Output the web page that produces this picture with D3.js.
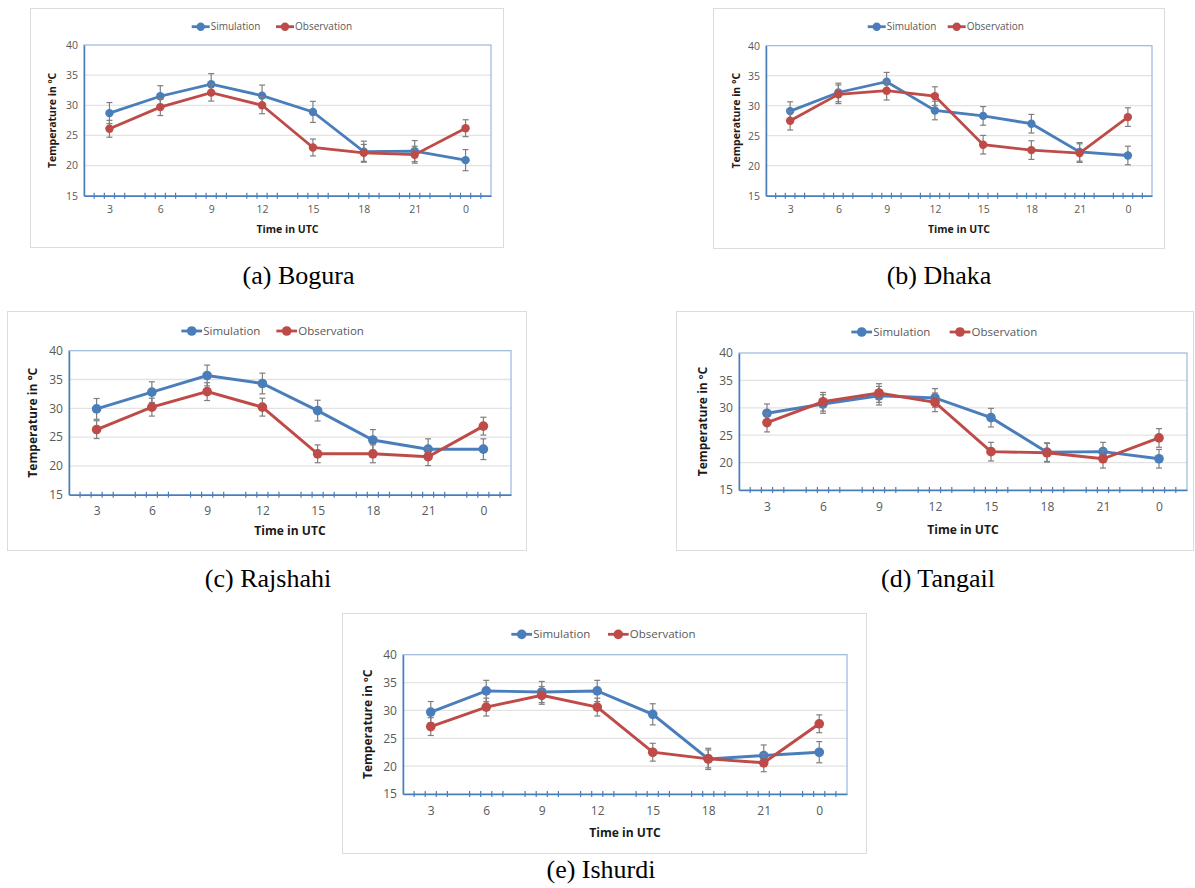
<!DOCTYPE html>
<html>
<head>
<meta charset="utf-8">
<script src="https://cdn.jsdelivr.net/npm/d3@7"></script>
<style>
  body { margin: 0; background: #fff; }
  svg text { font-family: "Open Sans", "DejaVu Sans", sans-serif; }
</style>
</head>
<body>
<div id="my_dataviz"></div>
<script>
// categories and y ticks shared by all panels
var hours = ["3", "6", "9", "12", "15", "18", "21", "0"];
var yTicks = [15, 20, 25, 30, 35, 40];
var seriesNames = ["Simulation", "Observation"];

// (a) Bogura
var boguraSim = [28.7, 31.5, 33.5, 31.6, 28.9, 22.3, 22.4, 20.9];
var boguraObs = [26.1, 29.7, 32.1, 30.0, 23.0, 22.1, 21.8, 26.2];
var boguraSimErr = [1.75, 1.75, 1.75, 1.75, 1.75, 1.75, 1.75, 1.75];
var boguraObsErr = [1.4, 1.4, 1.4, 1.4, 1.4, 1.4, 1.4, 1.4];

// (b) Dhaka
var dhakaSim = [29.1, 32.2, 34.0, 29.2, 28.3, 27.0, 22.3, 21.7];
var dhakaObs = [27.5, 31.9, 32.5, 31.6, 23.5, 22.6, 22.1, 28.1];
var dhakaSimErr = [1.55, 1.55, 1.55, 1.55, 1.55, 1.55, 1.55, 1.55];
var dhakaObsErr = [1.55, 1.55, 1.55, 1.55, 1.55, 1.55, 1.55, 1.55];

// (c) Rajshahi
var rajshahiSim = [29.9, 32.8, 35.7, 34.3, 29.6, 24.5, 22.9, 22.9];
var rajshahiObs = [26.3, 30.2, 32.9, 30.2, 22.1, 22.1, 21.6, 26.9];
var rajshahiSimErr = [1.8, 1.8, 1.8, 1.8, 1.8, 1.8, 1.8, 1.8];
var rajshahiObsErr = [1.55, 1.55, 1.55, 1.55, 1.55, 1.55, 1.55, 1.55];

// (d) Tangail
var tangailSim = [29.0, 30.7, 32.2, 31.8, 28.2, 21.9, 22.0, 20.7];
var tangailObs = [27.3, 31.1, 32.7, 31.0, 22.0, 21.8, 20.7, 24.5];
var tangailSimErr = [1.7, 1.7, 1.7, 1.7, 1.7, 1.7, 1.7, 1.7];
var tangailObsErr = [1.7, 1.7, 1.7, 1.7, 1.7, 1.7, 1.7, 1.7];

// (e) Ishurdi
var ishurdiSim = [29.7, 33.5, 33.3, 33.5, 29.3, 21.3, 21.9, 22.5];
var ishurdiObs = [27.1, 30.6, 32.7, 30.6, 22.5, 21.3, 20.6, 27.6];
var ishurdiSimErr = [1.9, 1.9, 1.9, 1.9, 1.9, 1.9, 1.9, 1.9];
var ishurdiObsErr = [1.6, 1.6, 1.6, 1.6, 1.6, 1.6, 1.6, 1.6];

var colors = ["#4a7ebb", "#be4b48"];

// layout of each panel (frame box, plot box, text positions)
var panels = [
  {caption: "(a) Bogura", capX: 298.5, capY: 284, ytitle: "Temperature in ºC",
   frame: [30, 8, 503, 247], plot: [84, 45, 491, 195.7],
   ytX: 52, tickY: 209, xtY: 229, legY: 26.7, legX: [200.7, 285], fs: 1,
   sim: boguraSim, obs: boguraObs, simErr: boguraSimErr, obsErr: boguraObsErr},
  {caption: "(b) Dhaka", capX: 939, capY: 284, ytitle: "Temperature in °C",
   frame: [713, 8, 1164, 248], plot: [766, 45.7, 1152, 195.7],
   ytX: 736, tickY: 209, xtY: 229, legY: 26.7, legX: [876.7, 956.7], fs: 1,
   sim: dhakaSim, obs: dhakaObs, simErr: dhakaSimErr, obsErr: dhakaObsErr},
  {caption: "(c) Rajshahi", capX: 268, capY: 587, ytitle: "Temperature in °C",
   frame: [7, 311, 526, 550], plot: [69, 350.7, 511, 494.7],
   ytX: 33, tickY: 510.3, xtY: 530.7, legY: 331, legX: [191.7, 286.7], fs: 1.15,
   sim: rajshahiSim, obs: rajshahiObs, simErr: rajshahiSimErr, obsErr: rajshahiObsErr},
  {caption: "(d) Tangail", capX: 938, capY: 587, ytitle: "Temperature in ºC",
   frame: [676, 311, 1193, 550], plot: [739, 353, 1187, 490],
   ytX: 703, tickY: 506.7, xtY: 530, legY: 332, legX: [861.7, 960], fs: 1.15,
   sim: tangailSim, obs: tangailObs, simErr: tangailSimErr, obsErr: tangailObsErr},
  {caption: "(e) Ishurdi", capX: 601, capY: 878, ytitle: "Temperature in ºC",
   frame: [342, 613, 866, 853], plot: [403, 654.7, 847, 794],
   ytX: 368, tickY: 810.3, xtY: 832.7, legY: 634.3, legX: [521.7, 618.3], fs: 1.15,
   sim: ishurdiSim, obs: ishurdiObs, simErr: ishurdiSimErr, obsErr: ishurdiObsErr}
];

var svg = d3.select("#my_dataviz")
  .append("svg")
    .attr("width", 1195)
    .attr("height", 888);

function drawPanel(p) {
  var g = svg.append("g");
  var f = p.frame, b = p.plot, fs = p.fs;

  // outer frame of the excel chart
  g.append("rect")
    .attr("x", f[0] + 0.5).attr("y", f[1] + 0.5)
    .attr("width", f[2] - f[0]).attr("height", f[3] - f[1])
    .attr("fill", "#fff").attr("stroke", "#dcdcdc").attr("stroke-width", 1);

  var xScale = d3.scalePoint()
    .domain(hours)
    .range([b[0], b[2]])
    .padding(0.5);
  var yScale = d3.scaleLinear()
    .domain([15, 40])
    .range([b[3], b[1]]);
  var band = xScale.step();

  // gridlines
  g.append("g")
    .selectAll("line")
    .data(yTicks.slice(1, -1))
    .enter().append("line")
      .attr("x1", b[0]).attr("x2", b[2])
      .attr("y1", function(d) { return yScale(d); })
      .attr("y2", function(d) { return yScale(d); })
      .attr("stroke", "#e3e3e3").attr("stroke-width", 1.3);

  // plot area border
  g.append("rect")
    .attr("x", b[0]).attr("y", b[1])
    .attr("width", b[2] - b[0]).attr("height", b[3] - b[1])
    .attr("fill", "none").attr("stroke", "#9bb7dc").attr("stroke-width", 1.2);

  // y axis
  var yAxis = d3.axisLeft(yScale).tickValues(yTicks).tickSize(0).tickPadding(6);
  var ya = g.append("g")
    .attr("transform", "translate(" + b[0] + ",0)")
    .call(yAxis);
  ya.select(".domain").attr("stroke", "#4a7ebb").attr("stroke-width", 1.5);
  ya.selectAll("text").attr("fill", "#595959").style("font-size", (10.5 * fs) + "px");

  // x axis with the odd excel minor ticks
  var xAxis = d3.axisBottom(xScale).tickSize(0).tickPadding(0);
  var xa = g.append("g")
    .attr("transform", "translate(0," + b[3] + ")")
    .call(xAxis);
  xa.select(".domain").attr("stroke", "#4a7ebb").attr("stroke-width", 1.5);
  xa.selectAll("text")
    .attr("y", p.tickY - b[3])
    .attr("dy", "0.35em")
    .attr("fill", "#595959").style("font-size", (10.5 * fs) + "px");

  var offs = [-0.3, -0.1, 0.1, 0.3];
  var minor = [];
  hours.forEach(function(h) {
    offs.forEach(function(o) { minor.push(xScale(h) + o * band); });
  });
  xa.selectAll(".minor")
    .data(minor)
    .enter().append("line")
      .attr("class", "minor")
      .attr("x1", function(d) { return d; })
      .attr("x2", function(d) { return d; })
      .attr("y1", -3).attr("y2", 3)
      .attr("stroke", "#4a7ebb").attr("stroke-width", 1.2);

  // axis titles
  g.append("text")
    .attr("transform", "translate(" + p.ytX + "," + ((b[1] + b[3]) / 2) + ") rotate(-90)")
    .attr("text-anchor", "middle").attr("dy", "0.35em")
    .style("font-size", (10.5 * fs) + "px").style("font-weight", "bold")
    .attr("fill", "#1a1a1a")
    .text(p.ytitle);
  g.append("text")
    .attr("x", (b[0] + b[2]) / 2).attr("y", p.xtY)
    .attr("text-anchor", "middle").attr("dy", "0.35em")
    .style("font-size", (10.5 * fs) + "px").style("font-weight", "bold")
    .attr("fill", "#1a1a1a")
    .text("Time in UTC");

  var series = [
    {vals: p.sim, err: p.simErr, color: colors[0]},
    {vals: p.obs, err: p.obsErr, color: colors[1]}
  ];

  var line = d3.line()
    .x(function(d, i) { return xScale(hours[i]); })
    .y(function(d) { return yScale(d); });

  series.forEach(function(s) {
    var pts = s.vals.map(function(v, i) { return {h: hours[i], v: v, e: s.err[i]}; });

    g.append("path")
      .attr("d", line(s.vals))
      .attr("fill", "none")
      .attr("stroke", s.color)
      .attr("stroke-width", 2.8 * (fs > 1 ? 1.05 : 1));

    // error bars
    var eb = g.append("g").selectAll("g")
      .data(pts).enter().append("g")
      .attr("stroke", "#7f7f7f").attr("stroke-width", 1.2);
    eb.append("line")
      .attr("x1", function(d) { return xScale(d.h); })
      .attr("x2", function(d) { return xScale(d.h); })
      .attr("y1", function(d) { return yScale(d.v - d.e); })
      .attr("y2", function(d) { return yScale(d.v + d.e); });
    [-1, 1].forEach(function(sg) {
      eb.append("line")
        .attr("x1", function(d) { return xScale(d.h) - 3; })
        .attr("x2", function(d) { return xScale(d.h) + 3; })
        .attr("y1", function(d) { return yScale(d.v + sg * d.e); })
        .attr("y2", function(d) { return yScale(d.v + sg * d.e); });
    });

    g.append("g").selectAll("circle")
      .data(pts).enter().append("circle")
        .attr("cx", function(d) { return xScale(d.h); })
        .attr("cy", function(d) { return yScale(d.v); })
        .attr("r", 4.2 * fs)
        .attr("fill", s.color);
  });

  // legend
  seriesNames.forEach(function(name, i) {
    var lx = p.legX[i];
    g.append("line")
      .attr("x1", lx - 9 * fs).attr("x2", lx + 9 * fs)
      .attr("y1", p.legY).attr("y2", p.legY)
      .attr("stroke", colors[i]).attr("stroke-width", 2.8);
    g.append("circle")
      .attr("cx", lx).attr("cy", p.legY).attr("r", 4.2 * fs)
      .attr("fill", colors[i]);
    g.append("text")
      .attr("x", lx + 10 * fs).attr("y", p.legY).attr("dy", "0.35em")
      .style("font-size", (10 * fs) + "px")
      .attr("fill", "#595959")
      .text(name);
  });

  // caption below the chart
  svg.append("text")
    .attr("x", p.capX).attr("y", p.capY)
    .attr("text-anchor", "middle")
    .style("font-family", "'Liberation Serif', 'Times New Roman', serif")
    .style("font-size", "26px")
    .attr("fill", "#000")
    .text(p.caption);
}

panels.forEach(drawPanel);
</script>
</body>
</html>
